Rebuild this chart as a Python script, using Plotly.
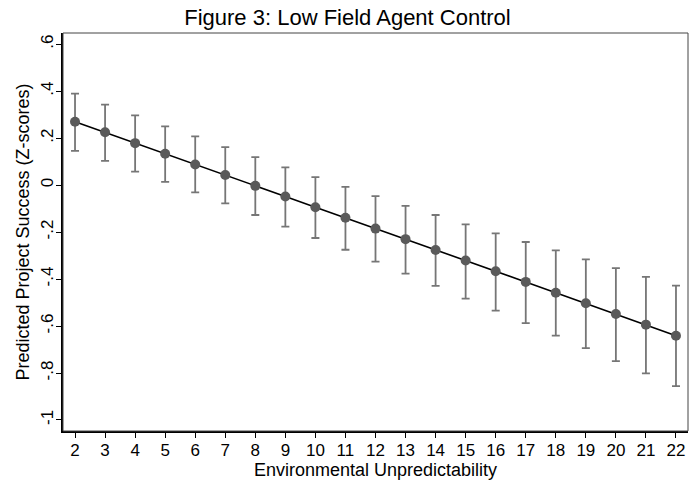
import plotly.graph_objects as go

x_vals = list(range(2, 23))
pred = [0.270, 0.225, 0.179, 0.134, 0.088, 0.043, -0.003, -0.048, -0.094, -0.139, -0.185,
        -0.230, -0.276, -0.321, -0.367, -0.412, -0.458, -0.503, -0.549, -0.594, -0.641]
upper = [0.390, 0.343, 0.297, 0.250, 0.208, 0.162, 0.119, 0.076, 0.034, -0.007, -0.047,
         -0.088, -0.127, -0.167, -0.205, -0.242, -0.278, -0.316, -0.353, -0.391, -0.428]
lower = [0.146, 0.103, 0.058, 0.014, -0.031, -0.078, -0.127, -0.177, -0.225, -0.275, -0.326,
         -0.377, -0.429, -0.483, -0.534, -0.588, -0.641, -0.694, -0.749, -0.802, -0.856]
y_ticks = [0.6, 0.4, 0.2, 0, -0.2, -0.4, -0.6, -0.8, -1]
y_tick_labels = [".6", ".4", ".2", "0", "-.2", "-.4", "-.6", "-.8", "-1"]

err_plus = [u - p for u, p in zip(upper, pred)]
err_minus = [p - l for p, l in zip(pred, lower)]

FONT = "Liberation Sans, Arial, Helvetica, sans-serif"

fig = go.Figure()
fig.add_trace(go.Scatter(
    x=x_vals, y=pred, mode="markers",
    marker=dict(size=1, color="rgba(0,0,0,0)"),
    error_y=dict(type="data", symmetric=False, array=err_plus, arrayminus=err_minus,
                 color="#767676", thickness=1.8, width=4),
    showlegend=False, hoverinfo="skip"))
fig.add_trace(go.Scatter(
    x=x_vals, y=pred, mode="lines",
    line=dict(color="black", width=1.6), showlegend=False))
fig.add_trace(go.Scatter(
    x=x_vals, y=pred, mode="markers",
    marker=dict(size=10, color="#5a5a5a", line=dict(width=0)), showlegend=False))

fig.update_layout(
    width=699, height=485,
    margin=dict(l=63, r=11, t=33, b=52),
    paper_bgcolor="white", plot_bgcolor="white",
    font=dict(family=FONT, color="black"),
    title=dict(text="Figure 3: Low Field Agent Control", x=(182 + 513) / 2 / 699,
               xanchor="center", y=1 - 17 / 485, yanchor="middle",
               font=dict(size=22, family=FONT)),
    xaxis=dict(range=[1.6, 22.4], tickmode="array", tickvals=x_vals,
               ticktext=[str(v) for v in x_vals], ticks="outside", ticklen=5, tickwidth=1.2,
               tickcolor="black", showline=True, linecolor="black", linewidth=1.5,
               showgrid=False, zeroline=False, tickfont=dict(size=17), ticklabelstandoff=-2,
               title=dict(text="Environmental Unpredictability", font=dict(size=18), standoff=1)),
    yaxis=dict(range=[-1.047, 0.648], tickmode="array", tickvals=y_ticks,
               ticktext=y_tick_labels, tickangle=-90, ticks="outside", ticklen=5,
               tickwidth=1.2, tickcolor="black", showline=True, linecolor="black",
               linewidth=1.5, showgrid=False, zeroline=False, tickfont=dict(size=17),
               ticklabelstandoff=-4,
               title=dict(text="Predicted Project Success (Z-scores)", font=dict(size=18),
                          standoff=4)),
    shapes=[dict(type="rect", xref="paper", yref="paper", x0=0, y0=0, x1=1, y1=1,
                 line=dict(color="#444444", width=1), layer="above")],
)

fig.write_html("out.html")
